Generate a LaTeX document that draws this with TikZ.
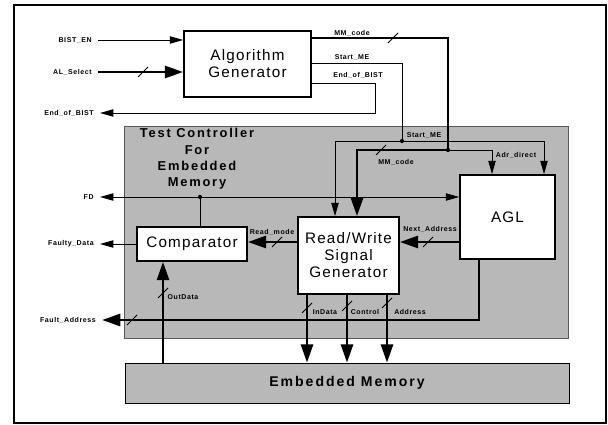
\documentclass[tikz,border=0pt]{standalone}
\usepackage{fontspec}
\setmainfont{Liberation Sans}
\newfontfamily\boxfont[LetterSpace=8]{Liberation Sans}
\newfontfamily\lblfont[LetterSpace=8]{Liberation Sans}
\newfontfamily\titlefont[LetterSpace=14]{Liberation Sans}
\usetikzlibrary{arrows.meta}
\tikzset{
  every picture/.style={line width=0.8pt},
  blk/.style={draw, line width=1.4pt, fill=white, align=center, inner sep=0pt, font=\boxfont\fontsize{13}{14.5}\selectfont},
  graybox/.style={draw=black!65, fill=black!28, line width=0.6pt, inner sep=0pt},
  title/.style={font=\titlefont\bfseries\fontsize{11}{14}\selectfont, align=center, inner sep=0pt},
  lbl/.style={font=\lblfont\bfseries\fontsize{6}{7}\selectfont, inner sep=1pt},
  io/.style={lbl, anchor=east, inner xsep=5pt},
  wire/.style={line width=0.8pt},
  arrow/.style={wire, -{Triangle[length=4mm, width=2.2mm]}},
  bus/.style={line width=2.4pt},
  busarrow/.style={bus, -{Triangle[length=5.5mm, width=3.6mm]}},
  tick/.style={line width=0.8pt},
}

\begin{document}
\begin{tikzpicture}[x=0.03cm, y=-0.03cm]
  \useasboundingbox (0,0) rectangle (608,425);
  \draw[line width=1.6pt] (14,5) rectangle (606,423);
  % shaded areas
  \node[graybox, minimum width=13.32cm, minimum height=6.36cm] (tc) at (346,232) {};
  \node[graybox, draw=black, minimum width=13.32cm, minimum height=1.2cm, font=\titlefont\bfseries\fontsize{12}{14}\selectfont] (em) at (347,383) {Embedded Memory};
  \node[title] (tctitle) at (197,159) {Test Controller\\For\\Embedded\\Memory};
  % blocks
  \node[blk, minimum width=3.81cm, minimum height=1.98cm] (ag) at (247.5,64) {Algorithm\\Generator};
  \node[blk, minimum width=3.3cm, minimum height=1.02cm] (cmp) at (192,244) {Comparator};
  \node[blk, minimum width=3.03cm, minimum height=2.31cm] (rw) at (348.5,255.5) {Read/Write\\Signal\\Generator};
  \node[blk, minimum width=2.85cm, minimum height=2.52cm] (agl) at (507.5,217) {AGL};
  % ports
  \node[io] (bisten) at (98,40) {BIST\_EN};
  \node[io] (alsel) at (98,72) {AL\_Select};
  \node[io] (eob) at (100,113) {End\_of\_BIST};
  \node[io] (fd) at (100,197) {FD};
  \node[io] (fdata) at (100,244) {Faulty\_Data};
  \node[io] (faddr) at (102,320) {Fault\_Address};
  % junctions
  \coordinate (mmj) at (448,150);
  \coordinate (smj) at (402,141);
  \coordinate (fdj) at (200,197);
  \coordinate (eobc) at (375,113);
  % connections
  \draw[arrow] (bisten.east) -- (bisten.east -| ag.west);
  \draw[busarrow] (alsel.east) -- (alsel.east -| ag.west);
  \draw[arrow] (ag.east |- 0,83) -| (eobc) -- (eob.east);
  \draw[bus] (ag.east |- 0,38) -| (mmj);
  \draw[busarrow] (mmj) -| (rw.north -| 357,0);
  \draw[arrow] (mmj) -| (agl.north -| 492,0);
  \draw[wire] (ag.east |- 0,63) -| (smj);
  \draw[arrow] (smj) -| (rw.north -| 335,0);
  \draw[arrow] (smj) -| (agl.north -| 544,0);
  \draw[wire] (cmp.north -| fdj) -- (fdj);
  \draw[arrow] (fdj) -- (fd.east);
  \draw[arrow] (fdj) -- (fdj -| agl.west);
  \draw[arrow] (cmp.west) -- (fdata.east);
  \draw[busarrow] (rw.west |- 0,242) -- (cmp.east |- 0,242);
  \draw[busarrow] (agl.west |- 0,242) -- (rw.east |- 0,242);
  \draw[busarrow] (agl.south -| 479,0) |- (faddr.east);
  \draw[busarrow] (em.north -| 163,0) -- (cmp.south -| 163,0);
  \foreach \x in {307,347,387}
    \draw[busarrow] (rw.south -| \x,0) -- (em.north -| \x,0);
  \foreach \p in {mmj,smj,fdj}
    \fill (\p) circle (1.8pt);
  % bus width marks
  \foreach \p in {(143,72),(393,38),(381,150),(277,242),(428,242),(132,320),(163,293),(307,308),(347,306),(387,303)}
    \draw[tick] \p ++(-5,5) -- ++(10,-10);
  % signal names
  \node[lbl] (mmtop) at (352,33) {MM\_code};
  \node[lbl] (smtop) at (352,57) {Start\_ME};
  \node[lbl] (eobtop) at (358,75) {End\_of\_BIST};
  \node[lbl] (smin) at (424,135) {Start\_ME};
  \node[lbl] (mmin) at (396,162) {MM\_code};
  \node[lbl] (adr) at (516,155) {Adr\_direct};
  \node[lbl] (rmode) at (272,232) {Read\_mode};
  \node[lbl] (nxt) at (430,229) {Next\_Address};
  \node[lbl] (outd) at (183,297) {OutData};
  \node[lbl] (ind) at (325,312) {InData};
  \node[lbl] (ctl) at (365,312) {Control};
  \node[lbl] (addr) at (410,312) {Address};
\end{tikzpicture}
\end{document}
